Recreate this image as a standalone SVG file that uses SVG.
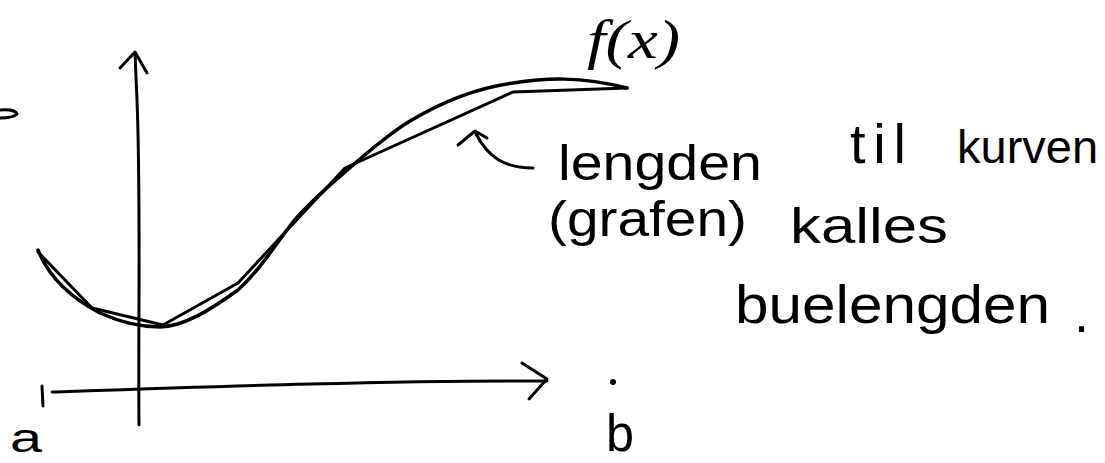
<svg xmlns="http://www.w3.org/2000/svg" width="1105" height="463" viewBox="0 0 1105 463">
<style>
.ln{fill:none;stroke:#000;stroke-width:3;stroke-linecap:round;stroke-linejoin:round}
.thick{stroke-width:3.5}
.hw{font-family:"Liberation Sans",Arial,sans-serif;fill:#000}
.fx{font-family:"Liberation Serif","Times New Roman",serif;font-style:italic;fill:#000}
</style>
<rect width="1105" height="463" fill="#fff"/>
<g id="axes">
<path class="ln" d="M0,110 C10,109 16,111 17,114 C14,117 6,118 0,118"/>
<path class="ln" d="M139,425 C138,330 141,200 137,100 L135,53"/>
<path class="ln" d="M120,68 L135,52 L147,73"/>
<path class="ln" d="M52,392 C200,387 400,380 547,381"/>
<path class="ln" d="M522,363 L547,379 L529,399"/>
<path class="ln" stroke-width="4" d="M42,386 L43,406"/>
<circle cx="613" cy="382" r="3" fill="#000"/>
</g>
<g id="curve">
<path class="ln thick" d="M38,250 C50,280 75,300 100,313 C120,322 140,327 160,327 C185,326 210,310 238,290 C260,270 275,245 293,222 C310,202 330,185 345,172 C370,150 390,133 410,121 C440,103 475,88 513,83 C545,78 580,76 627,88"/>
<path class="ln" d="M38,252 L92,308 L163,325 L238,283 L345,168 L513,92 L627,88"/>
</g>
<g id="pointer">
<path class="ln" d="M533,168 C505,168 488,158 475,132"/>
<path class="ln" d="M458,145 L475,131 L487,138"/>
</g>
<g id="labels">
<text class="fx" x="587" y="58" font-size="54" textLength="93" lengthAdjust="spacingAndGlyphs">f(x)</text>
<text class="hw" x="558" y="180" font-size="50" textLength="204" lengthAdjust="spacingAndGlyphs">lengden</text>
<text class="hw" x="850" y="163" font-size="56" textLength="56" lengthAdjust="spacing">til</text>
<text class="hw" x="957" y="163" font-size="47">kurven</text>
<text class="hw" x="548" y="236" font-size="50" textLength="199" lengthAdjust="spacingAndGlyphs">(grafen)</text>
<text class="hw" x="790" y="243" font-size="50" textLength="158" lengthAdjust="spacingAndGlyphs">kalles</text>
<text class="hw" font-size="54" y="323"><tspan x="735" textLength="315" lengthAdjust="spacingAndGlyphs">buelengden</tspan><tspan x="1074" y="332">.</tspan></text>
<text class="hw" x="10" y="452" font-size="40" textLength="32" lengthAdjust="spacingAndGlyphs">a</text>
<text class="hw" x="606" y="451" font-size="52" textLength="28" lengthAdjust="spacingAndGlyphs">b</text>
</g>
</svg>
